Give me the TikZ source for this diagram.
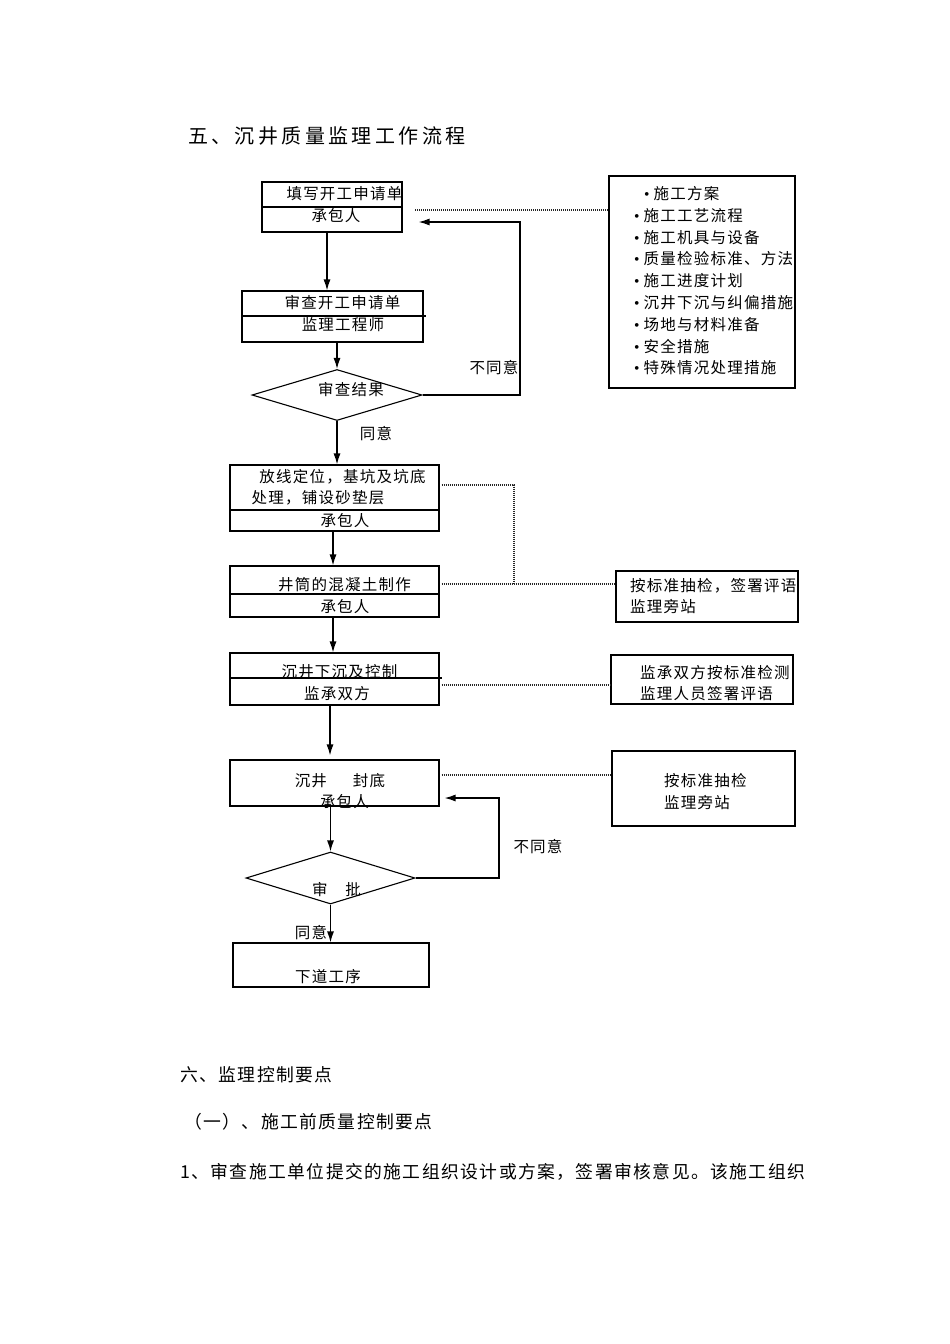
\documentclass[tikz,border=0pt]{standalone}
\usepackage{fontspec}
\setmainfont{Noto Sans CJK SC}
\newfontfamily\cjk[LetterSpace=8]{Noto Sans CJK SC}
\newfontfamily\cjktitle[LetterSpace=17]{Noto Sans CJK SC}
\newfontfamily\latfont{Liberation Serif}
\usetikzlibrary{arrows.meta,shapes.geometric}
\newcommand{\bul}{{\latfont\char"2022}\hspace{4pt}}
\begin{document}
\begin{tikzpicture}[x=1pt,y=-1pt,
  box/.style={draw, line width=1.1pt, inner sep=0pt},
  dia/.style={draw, diamond, line width=1.1pt, inner sep=0pt},
  txt/.style={inner sep=0pt, font=\cjk\fontsize{15.5}{18}\selectfont},
  ltxt/.style={txt, anchor=west},
  arr/.style={line width=1.3pt, -{Latex[length=11pt,width=7pt]}},
  fbline/.style={line width=1.3pt, -{Latex[length=11pt,width=7pt]}},
  dotline/.style={line width=1.2pt, dash pattern=on 1pt off 1pt, black!85},
  divl/.style={line width=1.1pt}
]
\useasboundingbox[fill=white] (0,0) rectangle (950,1344);

% title
\node[inner sep=0pt, anchor=west, font=\cjktitle\fontsize{20}{24}\selectfont] (title) at (188,136) {五、沉井质量监理工作流程};

% left column boxes
\node[box, minimum width=140, minimum height=50] (b1) at (332,207) {};
\node[box, minimum width=181, minimum height=51] (b2) at (332.5,316.5) {};
\node[dia, minimum width=170, minimum height=51] (d1) at (337,395) {};
\node[box, minimum width=209, minimum height=66] (b3) at (334.5,498) {};
\node[box, minimum width=209, minimum height=51] (b4) at (334.5,591.5) {};
\node[box, minimum width=209, minimum height=52] (b5) at (334.5,679) {};
\node[box, minimum width=209, minimum height=46] (b6) at (334.5,783) {};
\node[dia, minimum width=169, minimum height=52] (d2) at (330.5,878) {};
\node[box, minimum width=196, minimum height=44] (b7) at (331,965) {};

% right boxes
\node[box, minimum width=186, minimum height=212] (r1) at (702,282) {};
\node[box, minimum width=182, minimum height=51] (r2) at (707,596.5) {};
\node[box, minimum width=182, minimum height=49] (r3) at (702,679.5) {};
\node[box, minimum width=183, minimum height=75] (r4) at (703.5,788.5) {};

% dividers
\draw[divl] (b1.west) -- (b1.east);
\draw[divl] ([yshift=0.5pt]b2.west) -- ([xshift=2pt,yshift=0.5pt]b2.east);
\draw[divl] ([yshift=-12pt]b3.west) -- ([yshift=-12pt]b3.east);
\draw[divl] ([yshift=-2.5pt]b4.west) -- ([yshift=-2.5pt]b4.east);
\draw[divl] ([yshift=1pt]b5.west) -- ([xshift=2pt,yshift=1pt]b5.east);

% texts in boxes
\node[txt] (t1a) at (344.5,194) {填写开工申请单};
\node[txt] (t1b) at (336,216) {承包人};
\node[txt] (t2a) at (342.5,303) {审查开工申请单};
\node[txt] (t2b) at (343,325) {监理工程师};
\node[txt] (td1) at (351,390) {审查结果};
\node[txt] (t3a) at (342.5,477) {放线定位，基坑及坑底};
\node[txt] (t3b) at (318,498) {处理，铺设砂垫层};
\node[txt] (t3c) at (345,521) {承包人};
\node[txt] (t4a) at (344.5,585) {井筒的混凝土制作};
\node[txt] (t4b) at (345,607) {承包人};
\node[txt] (t5a) at (339.5,672) {沉井下沉及控制};
\node[txt] (t5b) at (337,694) {监承双方};
\node[txt] (t6a) at (340,781) {沉井\hspace{26pt}封底};
\node[txt] (t6b) at (344.5,802) {承包人};
\node[txt] (td2) at (336.5,890) {审\hspace{18pt}批};
\node[txt] (t7) at (328,977) {下道工序};

% labels
\node[txt] (l1) at (494,368) {不同意};
\node[txt] (l2) at (376,434) {同意};
\node[txt] (l3) at (538,847) {不同意};
\node[txt] (l4) at (311,933) {同意};

% right box texts
\node[ltxt] (r1a) at (644,194) {\bul 施工方案};
\node[ltxt] (r1b) at (634,216) {\bul 施工工艺流程};
\node[ltxt] (r1c) at (634,238) {\bul 施工机具与设备};
\node[ltxt] (r1d) at (634,259) {\bul 质量检验标准、方法};
\node[ltxt] (r1e) at (634,281) {\bul 施工进度计划};
\node[ltxt] (r1f) at (634,303) {\bul 沉井下沉与纠偏措施};
\node[ltxt] (r1g) at (634,325) {\bul 场地与材料准备};
\node[ltxt] (r1h) at (634,347) {\bul 安全措施};
\node[ltxt] (r1i) at (634,368) {\bul 特殊情况处理措施};
\node[ltxt] (r2a) at (630,586) {按标准抽检，签署评语};
\node[ltxt] (r2b) at (630,607) {监理旁站};
\node[ltxt] (r3a) at (640,673) {监承双方按标准检测};
\node[ltxt] (r3b) at (640,694) {监理人员签署评语};
\node[ltxt] (r4a) at (664,781) {按标准抽检};
\node[ltxt] (r4b) at (664,803) {监理旁站};

% main arrows
\draw[arr] ([xshift=-5pt]b1.south) -- ([xshift=-5pt]b1.south |- b2.north);
\draw[arr] (b2.south -| d1.north) -- (d1.north);
\draw[arr] (d1.south) -- (d1.south |- b3.north);
\draw[arr] ([xshift=-1.5pt]b3.south) -- ([xshift=-1.5pt]b3.south |- b4.north);
\draw[arr] ([xshift=-1.5pt]b4.south) -- ([xshift=-1.5pt]b4.south |- b5.north);
\draw[arr] ([xshift=-4.5pt]b5.south) -- ([xshift=-4.5pt,yshift=4pt]b5.south |- b6.north);
\draw[arr] (b6.south -| d2.north) -- (d2.north);
\draw[arr] (d2.south) -- (d2.south |- b7.north);

% feedback loops
\coordinate (fb1) at (520,395);
\draw[fbline] (d1.east) -- (fb1) |- ([xshift=16pt,yshift=-15pt]b1.east);
\coordinate (fb2) at (499,878);
\draw[fbline] (d2.east) -- (fb2) |- ([xshift=5pt,yshift=-15pt]b6.east);

% dotted connectors
\coordinate (p1) at (415,210);
\draw[dotline] (p1) -- (p1 -| r1.west);
\coordinate (j1) at (514,584);
\draw[dotline] ([xshift=2pt,yshift=13pt]b3.east) -| (j1);
\draw[dotline] ([xshift=2pt,yshift=7.5pt]b4.east) -- ([yshift=7.5pt]b4.east -| r2.west);
\draw[dotline] ([xshift=2pt,yshift=-6pt]b5.east) -- ([yshift=-6pt]b5.east -| r3.west);
\draw[dotline] ([xshift=2pt,yshift=8pt]b6.east) -- ([yshift=8pt]b6.east -| r4.west);

% body text below
\node[inner sep=0pt, anchor=west, font=\cjk\fontsize{17.8}{22}\selectfont] (s6) at (180,1075) {六、监理控制要点};
\node[inner sep=0pt, anchor=west, font=\cjk\fontsize{17.8}{22}\selectfont] (s61) at (184,1122) {（一）、施工前质量控制要点};
\node[inner sep=0pt, anchor=west, font=\cjk\fontsize{17.8}{22}\selectfont] (p1t) at (180,1172) {1、审查施工单位提交的施工组织设计或方案，签署审核意见。该施工组织};
\end{tikzpicture}
\end{document}
